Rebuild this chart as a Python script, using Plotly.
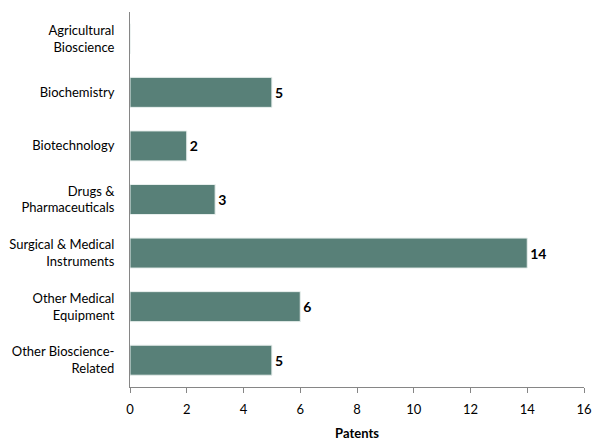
import plotly.graph_objects as go

categories = ["Agricultural<br>Bioscience", "Biochemistry", "Biotechnology",
              "Drugs &<br>Pharmaceuticals", "Surgical & Medical<br>Instruments",
              "Other Medical<br>Equipment", "Other Bioscience-<br>Related"]
patents = [0, 5, 2, 3, 14, 6, 5]
x_ticks = [0, 2, 4, 6, 8, 10, 12, 14, 16]

labels = [f"<b>{v}</b>" if v else "" for v in patents]

FONT = "Lato, Calibri, Carlito, sans-serif"

fig = go.Figure(go.Bar(
    y=categories, x=patents, orientation="h",
    marker=dict(color="#588078", line=dict(color="#e8efed", width=1)),
    text=labels, textposition="outside", cliponaxis=False,
    textfont=dict(family=FONT, size=14, color="#000000"),
))

fig.update_layout(
    width=592, height=441,
    margin=dict(l=130, r=8, t=12, b=54),
    paper_bgcolor="white", plot_bgcolor="white",
    bargap=0.44, showlegend=False,
    font=dict(family=FONT, size=13, color="#000000"),
    xaxis=dict(range=[0, 16], tickvals=x_ticks, showgrid=False, zeroline=False,
               automargin=False, ticklabeloverflow="allow",
               showline=True, linecolor="#868686", linewidth=1,
               ticks="outside", ticklen=5, tickcolor="#868686",
               ticklabelstandoff=5, tickfont=dict(size=13),
               title=dict(text="<b>Patents</b>", font=dict(size=13), standoff=17)),
    yaxis=dict(autorange="reversed", showgrid=False, zeroline=False,
               automargin=False,
               showline=True, linecolor="#868686", linewidth=1,
               ticks="", ticklabelstandoff=12, tickfont=dict(size=13)),
)

fig.write_html("out.html",
               config={"displayModeBar": False},
               post_script="document.body.style.margin='0';"
                           "document.body.style.overflow='hidden';")
